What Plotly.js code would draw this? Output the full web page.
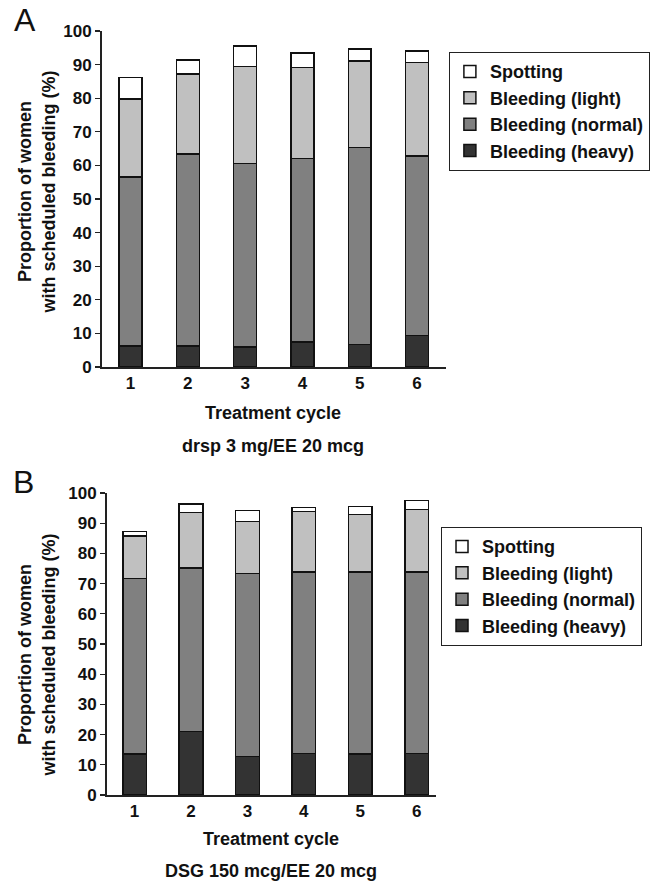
<!DOCTYPE html>
<html><head><meta charset="utf-8">
<script src="https://cdn.plot.ly/plotly-3.0.1.min.js"></script>
<style>body{margin:0;padding:0;background:#fff}#plot{width:650px;height:884px}</style>
</head><body><div id="plot"></div>
<script>
const cycles = ['1','2','3','4','5','6'];
const seriesNames = ['Bleeding (heavy)','Bleeding (normal)','Bleeding (light)','Spotting'];
const seriesColors = ['#333333','#808080','#c0c0c0','#ffffff'];
// Panel A (drsp 3 mg/EE 20 mcg) - segment sizes (%)
const aHeavy  = [6.2, 6.2, 6.0, 7.5, 6.7, 9.4];
const aNormal = [50.4, 57.2, 54.6, 54.5, 58.6, 53.4];
const aLight  = [23.2, 23.8, 28.9, 27.1, 25.7, 27.8];
const aSpot   = [6.3, 4.1, 6.1, 4.3, 3.7, 3.5];
// Panel B (DSG 150 mcg/EE 20 mcg)
const bHeavy  = [13.5, 21.0, 12.7, 13.8, 13.5, 13.8];
const bNormal = [58.2, 54.1, 60.7, 60.1, 60.4, 60.1];
const bLight  = [14.1, 18.4, 17.2, 20.0, 19.0, 20.6];
const bSpot   = [1.4, 2.9, 3.6, 1.3, 2.7, 3.0];
const yTicks = [0,10,20,30,40,50,60,70,80,90,100];

const FONT = 'Liberation Sans, Arial, sans-serif';
const W = 650, H = 884;
const px = v => v / W, py = v => 1 - v / H;
const dataA = [aHeavy, aNormal, aLight, aSpot];
const dataB = [bHeavy, bNormal, bLight, bSpot];
const traces = [];
dataA.forEach((v,i)=>traces.push({type:'bar', x:cycles, y:v, name:seriesNames[i], xaxis:'x', yaxis:'y',
  marker:{color:seriesColors[i], line:{color:'#111', width:1.5}}, width:0.4, legend:'legend', legendgroup:'a'+i, hoverinfo:'y'}));
dataB.forEach((v,i)=>traces.push({type:'bar', x:cycles, y:v, name:seriesNames[i], xaxis:'x2', yaxis:'y2',
  marker:{color:seriesColors[i], line:{color:'#111', width:1.5}}, width:0.42, legend:'legend2', legendgroup:'b'+i, hoverinfo:'y'}));

const tf = {family:FONT, size:17, color:'#111', weight:'bold'};
const axCommonY = {range:[0,100], tickvals:yTicks, ticks:'outside', ticklen:5, tickcolor:'#222', tickwidth:1.3, showline:true, linecolor:'#222', linewidth:1.5,
  showgrid:false, zeroline:false, tickfont:tf};
const axCommonX = {type:'category', showline:true, linecolor:'#222', linewidth:1.5, ticks:'', showgrid:false, tickfont:tf};
const legCommon = {bgcolor:'#fff', bordercolor:'#222', borderwidth:1.2, font:{family:FONT,size:18,color:'#111',weight:'bold'},
  traceorder:'reversed', xanchor:'left', yanchor:'top', itemwidth:30, tracegroupgap:3};

const ann = (text, x, y, size, extra) => Object.assign({text, x:px(x), y:py(y), xref:'paper', yref:'paper', xanchor:'center', yanchor:'middle',
  showarrow:false, font:{family:FONT,size:size,color:'#111',weight:'bold'}}, extra||{});
const yTitleText = 'Proportion of women<br>with scheduled bleeding (%)';

const layout = {
  width:W, height:H, margin:{l:0,r:0,t:0,b:0}, paper_bgcolor:'#fff', plot_bgcolor:'#fff',
  barmode:'stack', showlegend:true,
  xaxis:Object.assign({}, axCommonX, {domain:[px(103), px(452)], range:[-0.504,5.5], anchor:'y'}),
  yaxis:Object.assign({}, axCommonY, {domain:[py(367), py(31)], anchor:'x'}),
  xaxis2:Object.assign({}, axCommonX, {domain:[px(108), px(442)], range:[-0.498,5.34], anchor:'y2'}),
  yaxis2:Object.assign({}, axCommonY, {domain:[py(795), py(493)], anchor:'x2'}),
  legend:Object.assign({}, legCommon, {x:px(455), y:py(52)}),
  legend2:Object.assign({}, legCommon, {x:px(447), y:py(527)}),
  annotations:[
    ann('A', 25, 20, 32, {font:{family:FONT,size:32,color:'#111'}}),
    ann('B', 24, 482, 32, {font:{family:FONT,size:32,color:'#111'}}),
    ann('Treatment cycle', 277, 413, 18),
    ann('drsp 3 mg/EE 20 mcg', 277, 446, 18),
    ann('Treatment cycle', 275, 839, 18),
    ann('DSG 150 mcg/EE 20 mcg', 275, 871, 18),
    ann(yTitleText, 37, 192, 18, {textangle:-90}),
    ann(yTitleText, 37, 655, 18, {textangle:-90})
  ]
};
Plotly.newPlot('plot', traces, layout, {displayModeBar:false, staticPlot:true});
</script></body></html>
